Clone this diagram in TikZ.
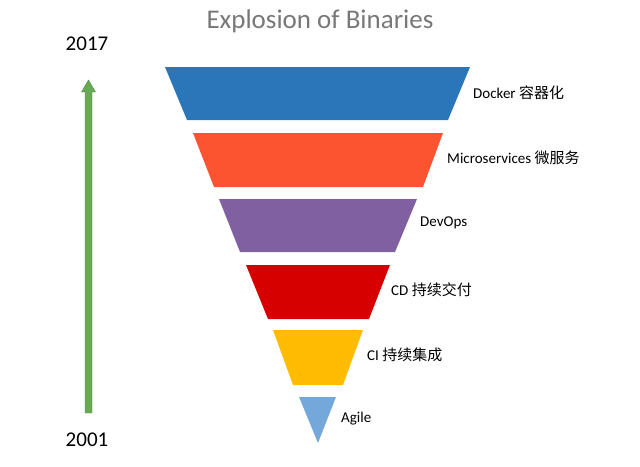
\documentclass[tikz,border=0pt]{standalone}
\usepackage{fontspec}
\setmainfont{Carlito}
\newfontfamily\cjk{Noto Sans CJK SC}
\definecolor{dockerblue}{RGB}{42,118,184}
\definecolor{microorange}{RGB}{252,84,48}
\definecolor{devpurple}{RGB}{128,96,160}
\definecolor{cdred}{RGB}{214,0,0}
\definecolor{ciyellow}{RGB}{255,188,0}
\definecolor{agileblue}{RGB}{116,168,218}
\definecolor{arrowgreen}{RGB}{104,170,84}
\definecolor{titlegray}{RGB}{120,120,120}
\tikzset{
  stage/.style={anchor=west, font=\fontsize{15}{18}\selectfont, text=black, inner sep=0pt},
  year/.style={font=\fontsize{21}{25}\selectfont, text=black, inner sep=0pt}
}

\begin{document}
\begin{tikzpicture}[x=1pt, y=-1pt]
			%%%%% START %%%%%
			\useasboundingbox (0, 0) rectangle (640, 466);
			
			\node[font=\fontsize{27}{32}\selectfont, text=titlegray, inner sep=0pt] (title) at (320, 21) {Explosion of Binaries};
			
			\node[year] (top) at (87, 44) {2017};
			\node[year] (bottom) at (87, 440) {2001};
			
			\draw[fill=arrowgreen, draw=arrowgreen!80!black, line width=0.4pt] (85, 413) -- (85, 92) -- (81.5, 92) -- (88.5, 80) -- (95.5, 92) -- (92, 92) -- (92, 413) -- cycle;
			
			\fill[dockerblue] (165, 67) -- (470, 67) -- (448, 120) -- (187, 120) -- cycle;
			\fill[microorange] (193, 133) -- (443, 133) -- (423, 187) -- (214, 187) -- cycle;
			\fill[devpurple] (219, 199) -- (417, 199) -- (395, 252) -- (240, 252) -- cycle;
			\fill[cdred] (246, 265) -- (390, 265) -- (369, 319) -- (268, 319) -- cycle;
			\fill[ciyellow] (273, 330) -- (363, 330) -- (343, 385) -- (293, 385) -- cycle;
			\fill[agileblue] (299, 397) -- (336, 397) -- (318, 443) -- cycle;
			
			\node[stage] (docker) at (473, 93) {Docker {\cjk 容器化}};
			\node[stage] (micro) at (447, 158) {Microservices {\cjk 微服务}};
			\node[stage] (devops) at (420, 223) {DevOps};
			\node[stage] (cd) at (391, 290) {CD {\cjk 持续交付}};
			\node[stage] (ci) at (367, 355) {CI {\cjk 持续集成}};
			\node[stage] (agile) at (341, 419) {Agile};
			
			%%%%% END %%%%%
\end{tikzpicture}
\end{document}
